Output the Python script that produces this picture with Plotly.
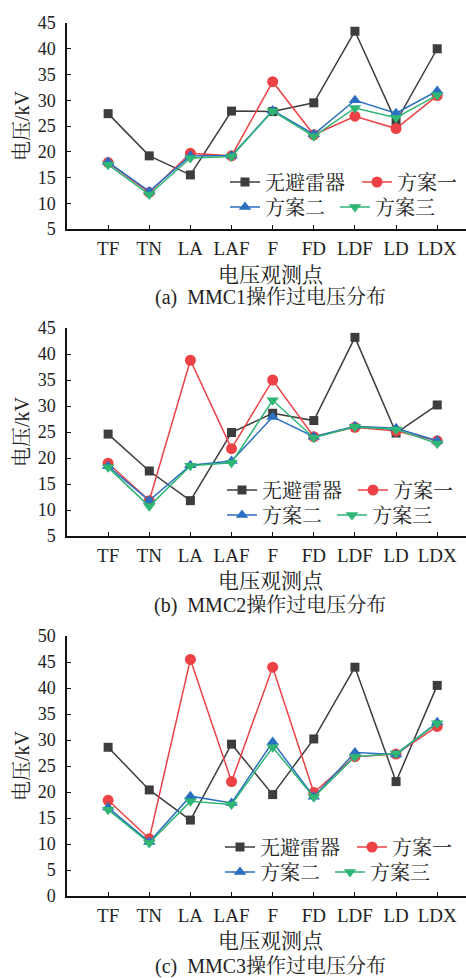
import plotly.graph_objects as go

categories = ["TF", "TN", "LA", "LAF", "F", "FD", "LDF", "LD", "LDX"]
series_names = ["无避雷器", "方案一", "方案二", "方案三"]

# Panel (a) MMC1
mmc1_none = [27.4, 19.2, 15.5, 27.9, 27.8, 29.5, 43.4, 25.8, 40.0]
mmc1_s1 = [17.9, 12.1, 19.7, 19.2, 33.6, 23.3, 26.9, 24.5, 30.9]
mmc1_s2 = [18.0, 12.3, 19.2, 19.2, 28.0, 23.4, 30.0, 27.5, 31.8]
mmc1_s3 = [17.5, 11.7, 18.8, 19.1, 27.9, 23.0, 28.5, 26.6, 31.0]

# Panel (b) MMC2
mmc2_none = [24.6, 17.5, 11.8, 24.9, 28.6, 27.2, 43.2, 24.8, 30.2]
mmc2_s1 = [19.0, 11.8, 38.8, 21.8, 35.0, 24.1, 25.9, 25.2, 23.3]
mmc2_s2 = [18.4, 11.8, 18.6, 19.4, 27.9, 24.1, 26.1, 25.7, 23.3]
mmc2_s3 = [18.2, 10.7, 18.5, 19.1, 31.1, 23.9, 26.0, 25.5, 22.8]

# Panel (c) MMC3
mmc3_none = [28.6, 20.4, 14.6, 29.2, 19.5, 30.2, 44.0, 22.0, 40.5]
mmc3_s1 = [18.4, 11.0, 45.5, 22.0, 44.0, 19.9, 26.8, 27.3, 32.6]
mmc3_s2 = [17.0, 10.4, 19.2, 17.9, 29.6, 19.1, 27.6, 27.2, 33.4]
mmc3_s3 = [16.6, 10.2, 18.2, 17.6, 28.6, 19.0, 26.8, 27.4, 33.2]

y_titles = ["电压/kV", "电压/kV", "电压/kV"]
x_title = "电压观测点"
captions = ["(a)  MMC1操作过电压分布", "(b)  MMC2操作过电压分布", "(c)  MMC3操作过电压分布"]

panels = [
    [mmc1_none, mmc1_s1, mmc1_s2, mmc1_s3],
    [mmc2_none, mmc2_s1, mmc2_s2, mmc2_s3],
    [mmc3_none, mmc3_s1, mmc3_s2, mmc3_s3],
]
y_ranges = [[5, 45], [5, 45], [0, 50]]

W, H = 466, 978
FONT = "Liberation Serif, Times New Roman, Noto Serif CJK SC, Noto Sans CJK SC, serif"

colors = ["#3d3d3d", "#ec4245", "#2a6fc0", "#2fb574"]
symbols = ["square", "circle", "triangle-up", "triangle-down"]
msizes = [9, 11, 11, 11]

# pixel geometry of each panel: (top, bottom)
panel_px = [(23, 229), (328, 536), (636, 896)]
x_left, x_right = 67, 466
legend_rows = [(182, 207), (490, 515), (847, 872)]
# legend entry left x for each series [无避雷器, 方案一, 方案二, 方案三]
legend_item_x = [[225, 357, 225, 335], [222, 353, 222, 332], [220, 352, 220, 330]]
xtitle_y = [275, 581, 941]
caption_y = [298, 605, 966]


def py(px):
    return 1 - px / H


def pxx(px):
    return px / W


fig = go.Figure()
layout = dict(
    width=W, height=H,
    margin=dict(l=0, r=0, t=0, b=0, autoexpand=False),
    paper_bgcolor="white", plot_bgcolor="white",
    font=dict(family=FONT, size=18, color="#222222"),
    showlegend=True,
    annotations=[],
)

for p in range(3):
    sfx = "" if p == 0 else str(p + 1)
    xa = "x" + sfx
    ya = "y" + sfx
    for s in range(4):
        leg_idx = p * 4 + s + 1
        leg = "legend" if leg_idx == 1 else "legend" + str(leg_idx)
        fig.add_trace(go.Scatter(
            x=categories, y=panels[p][s], name=series_names[s],
            mode="lines+markers", xaxis=xa, yaxis=ya, legend=leg,
            line=dict(color=colors[s], width=1.5),
            marker=dict(symbol=symbols[s], size=msizes[s], color=colors[s]),
        ))
        layout[leg] = dict(
            x=pxx(legend_item_x[p][s]), xanchor="left",
            y=py(legend_rows[p][s // 2]), yanchor="middle",
            orientation="h",
            bgcolor="rgba(0,0,0,0)", borderwidth=0,
            font=dict(family=FONT, size=20, color="#222222"),
            itemwidth=30,
        )
    top, bot = panel_px[p]
    layout["xaxis" + sfx] = dict(
        domain=[pxx(x_left), pxx(x_right)], anchor=ya,
        type="category", range=[-1, 8.7],
        showline=True, linecolor="#111111", linewidth=1.5,
        ticks="inside", ticklen=4, tickwidth=1, tickcolor="#111111",
        showgrid=False, zeroline=False,
        tickfont=dict(family=FONT, size=19, color="#222222"),
        ticklabelstandoff=1,
    )
    layout["yaxis" + sfx] = dict(
        domain=[py(bot), py(top)], anchor=xa,
        range=y_ranges[p], dtick=5, tick0=0,
        showline=True, linecolor="#111111", linewidth=1.5,
        ticks="inside", ticklen=4, tickwidth=1, tickcolor="#111111",
        showgrid=False, zeroline=False,
        tickfont=dict(family=FONT, size=18, color="#222222"),
        ticklabelstandoff=6,
    )
    layout["annotations"].append(dict(
        text=y_titles[p], x=pxx(22), y=py((top + bot) / 2), xref="paper", yref="paper",
        textangle=-90, showarrow=False, xanchor="center", yanchor="middle",
        font=dict(family=FONT, size=20, color="#222222"),
    ))
    layout["annotations"].append(dict(
        text=x_title, x=pxx(271), y=py(xtitle_y[p]), xref="paper", yref="paper",
        showarrow=False, xanchor="center", yanchor="middle",
        font=dict(family=FONT, size=21, color="#222222"),
    ))
    layout["annotations"].append(dict(
        text=captions[p], x=pxx(270), y=py(caption_y[p]), xref="paper", yref="paper",
        showarrow=False, xanchor="center", yanchor="middle",
        font=dict(family=FONT, size=20, color="#222222"),
    ))

fig.update_layout(**layout)
fig.write_html("out.html")
